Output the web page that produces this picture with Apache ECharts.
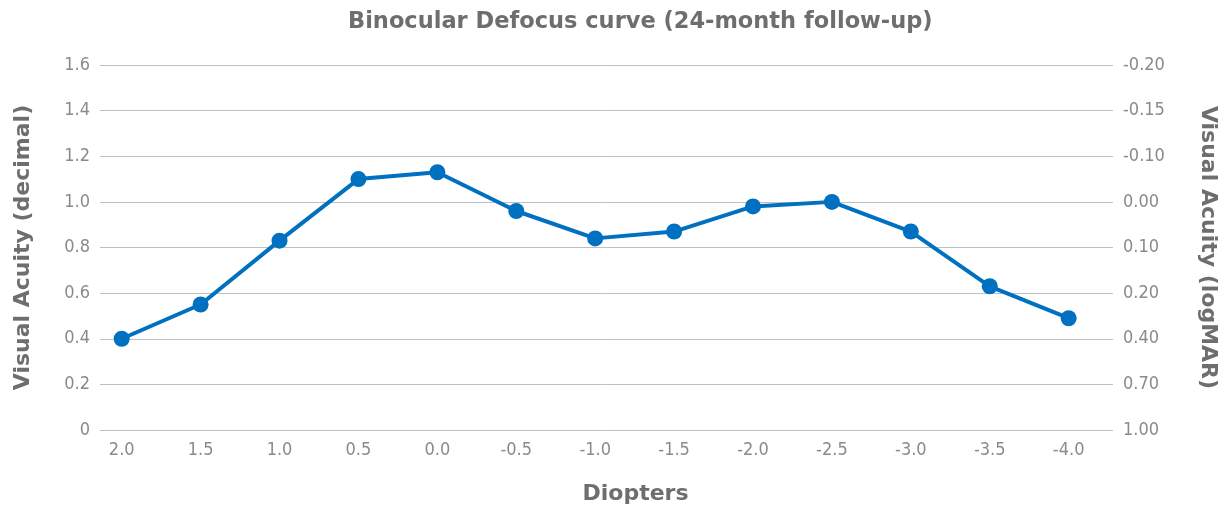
<!DOCTYPE html>
<html><head><meta charset="utf-8">
<script src="https://cdn.jsdelivr.net/npm/echarts@6/dist/echarts.min.js"></script>
<style>html,body{margin:0;padding:0;background:#fff}#c{width:1226px;height:508px}</style>
</head><body><div id="c"></div>
<script>
const chartTitle = 'Binocular Defocus curve (24-month follow-up)';
const diopters = [2.0, 1.5, 1.0, 0.5, 0.0, -0.5, -1.0, -1.5, -2.0, -2.5, -3.0, -3.5, -4.0];
const acuity = [0.40, 0.55, 0.83, 1.10, 1.13, 0.96, 0.84, 0.87, 0.98, 1.00, 0.87, 0.63, 0.49];
const leftTickLabels = ['0', '0.2', '0.4', '0.6', '0.8', '1.0', '1.2', '1.4', '1.6'];
const rightTickLabels = ['1.00', '0.70', '0.40', '0.20', '0.10', '0.00', '-0.10', '-0.15', '-0.20'];
const xName = 'Diopters';
const leftName = 'Visual Acuity (decimal)';
const rightName = 'Visual Acuity (logMAR)';

const tickFont = "'DejaVu Sans Condensed', 'Liberation Sans Narrow', sans-serif";
const boldFont = "'DejaVu Sans', sans-serif";
const labelColor = '#8a8a8a';
const nameColor = '#6e6e6e';

const chart = echarts.init(document.getElementById('c'));
const yIdx = v => Math.round(v / 0.2);
chart.setOption({
  animation: false,
  title: {
    text: chartTitle, left: 343, top: 6,
    textStyle: { fontFamily: boldFont, fontWeight: 'bold', fontSize: 22.5, color: nameColor }
  },
  grid: { left: 100, right: 113, top: 65, bottom: 78, outerBoundsMode: 'none', containLabel: false },
  xAxis: {
    type: 'value', inverse: true, min: -4.281, max: 2.1375,
    name: xName, nameLocation: 'middle', nameGap: 53,
    nameTextStyle: { fontFamily: boldFont, fontWeight: 'bold', fontSize: 22, color: nameColor,
      padding: [0, 0, 0, 58] },
    axisLine: { show: false }, axisTick: { show: false }, splitLine: { show: false },
    axisLabel: {
      customValues: diopters, margin: 11,
      fontFamily: tickFont, fontSize: 18, color: labelColor,
      formatter: v => v.toFixed(1)
    }
  },
  yAxis: [{
    type: 'value', min: 0, max: 1.6, interval: 0.2, position: 'left',
    name: leftName, nameLocation: 'middle', nameGap: 66, nameRotate: 90,
    nameTextStyle: { fontFamily: boldFont, fontWeight: 'bold', fontSize: 22, color: nameColor },
    axisLine: { show: false }, axisTick: { show: false },
    splitLine: { show: true, lineStyle: { color: '#bfbfbf', width: 1 } },
    axisLabel: { margin: 10, fontFamily: tickFont, fontSize: 18, color: labelColor,
      formatter: v => leftTickLabels[yIdx(v)] }
  }, {
    type: 'value', min: 0, max: 1.6, interval: 0.2, position: 'right',
    name: rightName, nameLocation: 'middle', nameGap: 84, nameRotate: -90,
    nameTextStyle: { fontFamily: boldFont, fontWeight: 'bold', fontSize: 22, color: nameColor },
    axisLine: { show: false }, axisTick: { show: false }, splitLine: { show: false },
    axisLabel: { margin: 10, fontFamily: tickFont, fontSize: 18, color: labelColor,
      formatter: v => rightTickLabels[yIdx(v)] }
  }],
  series: [{
    type: 'line', yAxisIndex: 0,
    data: diopters.map((d, i) => [d, acuity[i]]),
    symbol: 'circle', symbolSize: 16,
    lineStyle: { color: '#0070C0', width: 4 },
    itemStyle: { color: '#0070C0' }
  }]
});
</script></body></html>
